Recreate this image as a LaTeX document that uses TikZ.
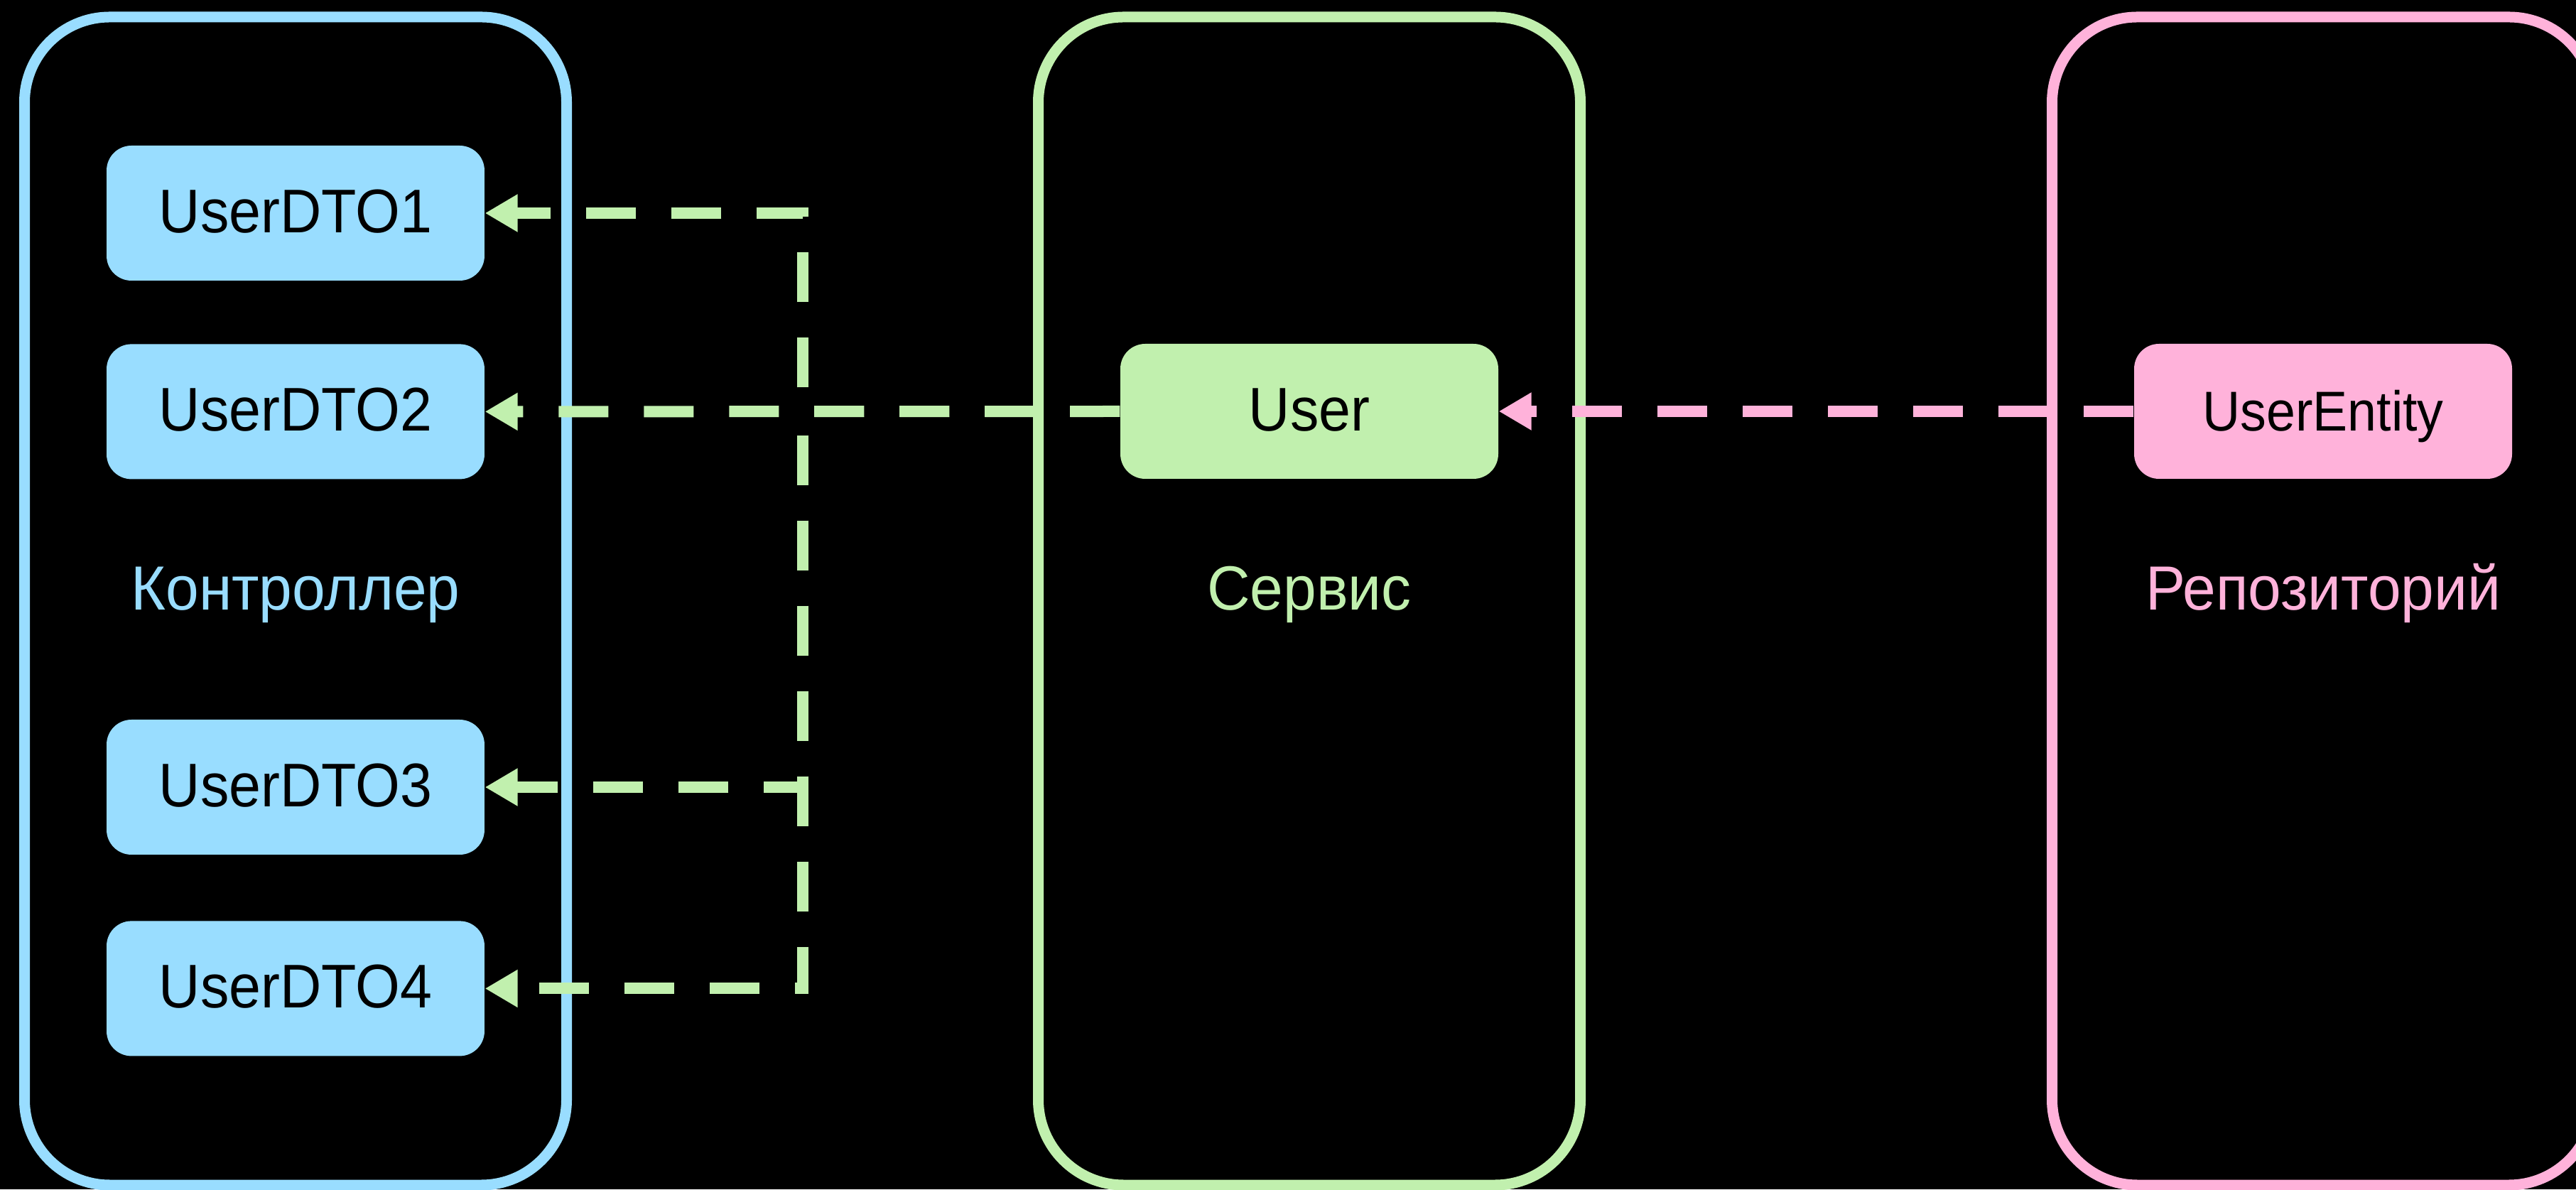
\documentclass[tikz,border=0pt]{standalone}
\usepackage{fontspec}
\setmainfont{Liberation Sans}
\usepackage{tikz}
\usetikzlibrary{positioning,arrows.meta}
\definecolor{ctrlblue}{RGB}{153,221,255}
\definecolor{svcgreen}{RGB}{193,240,174}
\definecolor{repopink}{RGB}{255,178,218}

\begin{document}
\begin{tikzpicture}[
		layer/.style={shape=rectangle,rounded corners=1.2cm,line width=0.15cm,minimum width=7.63cm,minimum height=16.44cm},
		obj/.style={shape=rectangle,xscale=0.93,rounded corners=0.35cm,minimum width=5.72cm,minimum height=1.9cm,inner sep=0,text=black,text height=0.7cm,text depth=0.15cm,font=\fontsize{24.7}{30}\selectfont},
		caption/.style={anchor=base,xscale=0.955,font=\fontsize{25}{30}\selectfont},
		flow/.style={line width=0.16cm,dash pattern=on 0.7cm off 0.5cm,-{Triangle[length=0.46cm,width=0.5cm]}}
	]
		\useasboundingbox (0,0) rectangle (36.26,16.74);
		\fill[black] (0,0) rectangle (36.26,16.74);

		\node(ctrl) at (4.16,8.28) [layer,draw=ctrlblue] {};
		\node(svc) at (18.43,8.28) [layer,draw=svcgreen] {};
		\node(repo) at (32.70,8.28) [layer,draw=repopink] {};

		\node(dto1) at (4.16,13.74) [obj,fill=ctrlblue] {UserDTO1};
		\node(dto2) [below=0.88 of dto1,obj,fill=ctrlblue] {UserDTO2};
		\node(dto3) at (4.16,5.66) [obj,fill=ctrlblue] {UserDTO3};
		\node(dto4) [below=0.92 of dto3,obj,fill=ctrlblue] {UserDTO4};
		\node(user) at (18.43,10.95) [obj,fill=svcgreen] {User};
		\node(entity) at (32.70,10.95) [obj,fill=repopink,font=\fontsize{22.5}{27}\selectfont] {UserEntity};

		\node(ctrlname) at (4.16,8.15) [caption,text=ctrlblue] {Контроллер};
		\node(svcname) at (18.43,8.15) [caption,text=svcgreen] {Сервис};
		\node(reponame) at (32.70,8.15) [caption,text=repopink] {Репозиторий};

		\coordinate(bus) at (11.30,10.95);
		\draw[flow,svcgreen] (user.west) -- (dto2.east);
		\draw[flow,svcgreen] (user.west) -- (bus) |- (dto1.east);
		\draw[flow,svcgreen] (user.west) -- (bus) |- (dto3.east);
		\draw[flow,svcgreen] (user.west) -- (bus) |- (dto4.east);
		\draw[flow,repopink] (entity.west) -- (user.east);
	\end{tikzpicture}
\end{document}
